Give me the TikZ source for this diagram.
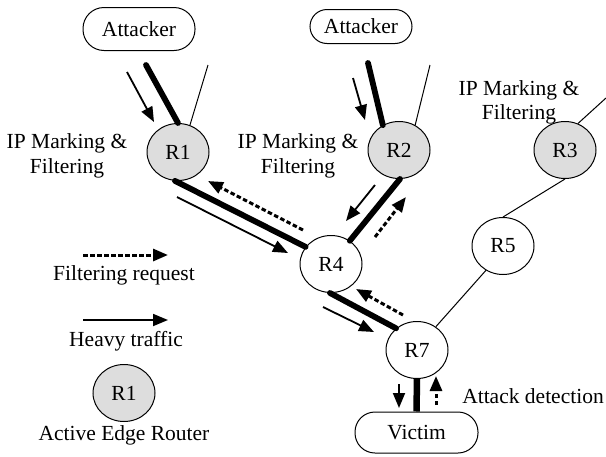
\documentclass[tikz,border=0pt]{standalone}
\usepackage{fontspec}
\setmainfont{Liberation Serif}
\usetikzlibrary{shapes.geometric,arrows.meta}
\definecolor{routergray}{HTML}{DDDDDD}
\begin{document}
\begin{tikzpicture}[x=1pt,y=-1pt,
  font=\fontsize{21.5}{25}\selectfont,
  router/.style={draw,ellipse,line width=1pt,minimum width=62pt,minimum height=57pt,inner sep=0pt},
  edge/.style={router,fill=routergray},
  host/.style={draw,rectangle,line width=1pt,inner sep=0pt},
  heavy/.style={line width=5.8pt,line cap=round},
  link/.style={line width=1pt},
  traffic/.style={line width=1.8pt,-{Triangle[length=15pt,width=12pt]}},
  request/.style={line width=3pt,dash pattern=on 4.5pt off 2.5pt,-{Triangle[length=15pt,width=12pt]}},
  lbl/.style={anchor=base,inner sep=0pt}]
\useasboundingbox (0,0) rectangle (606,456);

% hosts
\node[host,minimum width=112pt,minimum height=43pt,rounded corners=21pt] (A1) at (139,29) {Attacker};
\node[host,minimum width=102pt,minimum height=34pt,rounded corners=17pt] (A2) at (361,26.5) {Attacker};
\node[host,minimum width=123pt,minimum height=41pt,rounded corners=20pt] (V) at (416.5,432.5) {Victim};

% routers
\node[edge] (R1) at (178,152) {R1};
\node[edge] (R2) at (399,150) {R2};
\node[edge] (R3) at (565,150) {R3};
\node[router] (R4) at (331,264) {R4};
\node[router] (R5) at (503,246) {R5};
\node[router] (R7) at (417,350) {R7};
\node[edge] (L1) at (124,393) {R1};

% labels
\node[lbl] (m1a) at (67,148) {IP Marking \&};
\node[lbl] (m1b) at (67,173) {Filtering};
\node[lbl] (m2a) at (298,148) {IP Marking \&};
\node[lbl] (m2b) at (298,173) {Filtering};
\node[lbl] (m3a) at (519,95) {IP Marking \&};
\node[lbl] (m3b) at (519,119) {Filtering};
\node[lbl] (fr) at (124,280) {Filtering request};
\node[lbl] (ht) at (126,346) {Heavy traffic};
\node[lbl] (aer) at (124,440) {Active Edge Router};
\node[lbl] (ad) at (533,403) {Attack detection};

% free ends
\coordinate (a1h) at (146,65);
\coordinate (a1t) at (208,65);
\coordinate (a2h) at (368,63);
\coordinate (a2t) at (430,65);
\coordinate (r3t) at (606,98);

% attacker 1 -> R1
\draw[heavy] (a1h) -- (R1.north);
\draw[link] (a1t) -- (R1.66);
\coordinate (t1s) at (127,72); \coordinate (t1e) at (154,122);
\draw[traffic] (t1s) -- (t1e);

% attacker 2 -> R2
\draw[heavy] (a2h) -- (R2.123);
\draw[link] (a2t) -- (R2.57);
\coordinate (t2s) at (353,78); \coordinate (t2e) at (365,120);
\draw[traffic] (t2s) -- (t2e);

% R1 - R4
\draw[heavy] (R1.264) -- (R4.146);
\coordinate (t3s) at (177,197); \coordinate (t3e) at (288,253);
\draw[traffic] (t3s) -- (t3e);
\coordinate (d1s) at (303,230); \coordinate (d1e) at (208,181);
\draw[request] (d1s) -- (d1e);

% R2 - R4
\draw[heavy] (R2.272) -- (R4.51);
\coordinate (t4s) at (375,185); \coordinate (t4e) at (346,221);
\draw[traffic] (t4s) -- (t4e);
\coordinate (d2s) at (375,237); \coordinate (d2e) at (406,197);
\draw[request] (d2s) -- (d2e);

% R3, R5
\draw[link] (r3t) -- (R3.64);
\draw[link] (R3.south) -- (R5.north);
\draw[link] (R5.235) -- (R7.51);

% R4 - R7
\draw[heavy] (R4.268) -- (R7.134);
\coordinate (t5s) at (323,307); \coordinate (t5e) at (374,332);
\draw[traffic] (t5s) -- (t5e);
\coordinate (d3s) at (403,315); \coordinate (d3e) at (356,289);
\draw[request] (d3s) -- (d3e);

% R7 - Victim
\draw[heavy,line width=6.5pt,line cap=butt] (R7.south) -- (V.north);
\coordinate (t6s) at (399,384); \coordinate (t6e) at (399,408);
\draw[traffic] (t6s) -- (t6e);
\coordinate (d4s) at (436,405); \coordinate (d4e) at (436,376);
\draw[request] (d4s) -- (d4e);

% legend arrows
\coordinate (lds) at (83,255); \coordinate (lde) at (168,255);
\draw[request] (lds) -- (lde);
\coordinate (lts) at (83,320); \coordinate (lte) at (168,320);
\draw[traffic] (lts) -- (lte);
\end{tikzpicture}
\end{document}
